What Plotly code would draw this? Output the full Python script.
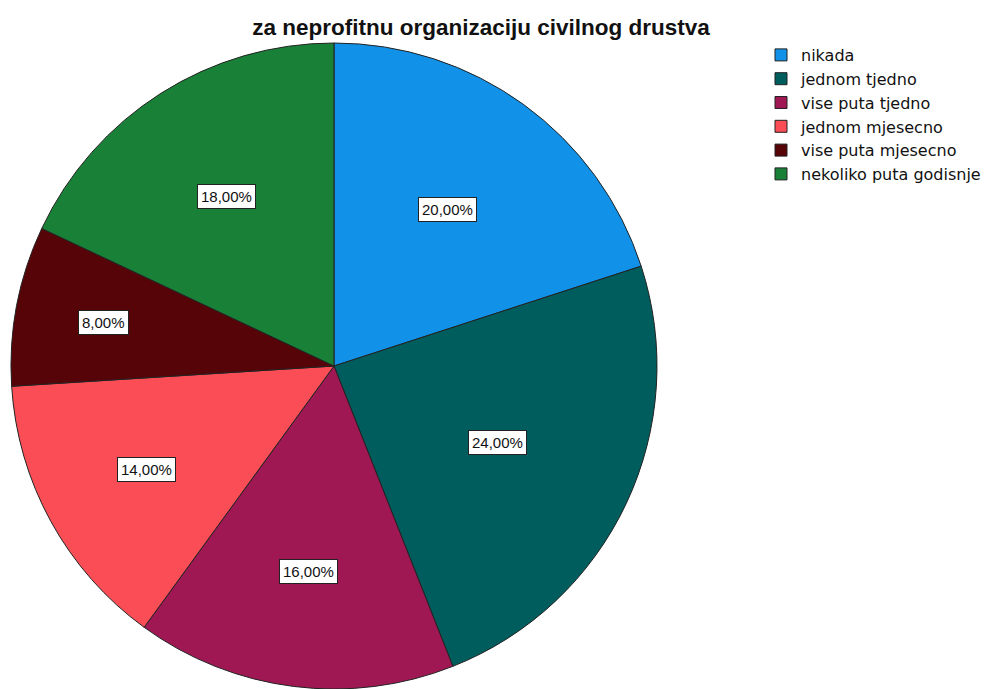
import math
import plotly.graph_objects as go

# data
categories = ["nikada", "jednom tjedno", "vise puta tjedno",
              "jednom mjesecno", "vise puta mjesecno", "nekoliko puta godisnje"]
percents = [20.0, 24.0, 16.0, 14.0, 8.0, 18.0]
colors = ["#1192e8", "#005d5d", "#9f1853", "#fa4d56", "#570408", "#198038"]
title = "za neprofitnu organizaciju civilnog drustva"

# page is drawn inside an 8px body margin
W, H = 982, 681
cx, cy, r = 326, 358, 323

fig = go.Figure(go.Pie(
    labels=categories,
    values=percents,
    marker=dict(colors=colors, line=dict(color="#222222", width=1)),
    sort=False,
    direction="clockwise",
    rotation=0,
    textinfo="none",
    hoverinfo="label+percent",
    domain=dict(x=[(cx - r) / W, (cx + r) / W], y=[(H - cy - r) / H, (H - cy + r) / H]),
))

# boxed percentage labels along each slice's mid angle (small slices sit further out)
total = sum(percents)
start = 0.0
for p in percents:
    mid = (start + p / 2) / total * 2 * math.pi
    start += p
    d = (0.81 - 0.0105 * p) * r
    lx = cx + d * math.sin(mid)
    ly = cy - d * math.cos(mid)
    fig.add_annotation(
        x=lx / W, y=1 - ly / H, xref="paper", yref="paper",
        xanchor="center", yanchor="middle",
        text=f"{p:.2f}%".replace(".", ","),
        showarrow=False,
        font=dict(family="Liberation Sans, Arial", size=15, color="#111111"),
        bgcolor="white", bordercolor="#222222", borderwidth=1, borderpad=3,
    )

fig.update_layout(
    width=W, height=H,
    margin=dict(l=0, r=0, t=0, b=0),
    paper_bgcolor="white",
    title=dict(text="<b>" + title + "</b>", x=473 / W, xanchor="center",
               y=1 - 19 / H, yanchor="middle",
               font=dict(family="Liberation Sans, Arial", size=22.5, color="#111111")),
    legend=dict(x=753 / W, y=1 - 30 / H, xanchor="left", yanchor="top",
                font=dict(family="DejaVu Sans, Tahoma", size=16, color="#111111"),
                itemwidth=30, bgcolor="rgba(0,0,0,0)"),
)

fig.write_html("out.html")
